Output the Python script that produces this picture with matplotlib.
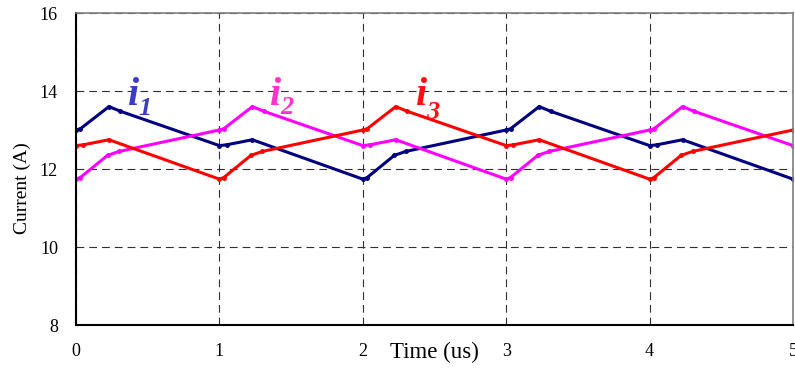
import matplotlib
matplotlib.use("Agg")
import matplotlib.pyplot as plt

# Phase currents of a three-phase interleaved converter (time in us, current in A)
t1 = [0.0, 0.03, 0.23, 0.31, 1.0, 1.05, 1.23, 2.0, 2.03, 2.22, 2.30, 3.0,
      3.03, 3.23, 3.31, 4.0, 4.05, 4.23, 5.0]
i1 = [13.0, 13.03, 13.6, 13.48, 12.6, 12.62, 12.75, 11.74, 11.78, 12.35, 12.45, 13.0,
      13.03, 13.6, 13.48, 12.6, 12.62, 12.75, 11.74]

t2 = [0.0, 0.03, 0.22, 0.30, 1.0, 1.03, 1.23, 1.31, 2.0, 2.05, 2.23, 3.0,
      3.03, 3.22, 3.30, 4.0, 4.03, 4.23, 4.31, 5.0]
i2 = [11.74, 11.78, 12.35, 12.45, 13.0, 13.03, 13.6, 13.48, 12.6, 12.62, 12.75, 11.74,
      11.78, 12.35, 12.45, 13.0, 13.03, 13.6, 13.48, 12.6]

t3 = [0.0, 0.05, 0.23, 1.0, 1.03, 1.22, 1.30, 2.0, 2.03, 2.23, 2.31, 3.0,
      3.05, 3.23, 4.0, 4.03, 4.22, 4.30, 5.0]
i3 = [12.6, 12.62, 12.75, 11.74, 11.78, 12.35, 12.45, 13.0, 13.03, 13.6, 13.48, 12.6,
      12.62, 12.75, 11.74, 11.78, 12.35, 12.45, 13.0]

x_ticks = [0, 1, 2, 3, 4, 5]
y_ticks = [8, 10, 12, 14, 16]

# (time, current, line colour, label colour, subscript, label x, subscript baseline)
series = [
    (t1, i1, "#000080", "#3b3bc8", "1", 0.36, 13.38),
    (t2, i2, "#ff00ff", "#ff33cc", "2", 1.35, 13.40),
    (t3, i3, "#ff0000", "#ff1010", "3", 2.37, 13.28),
]

plt.rcParams["font.family"] = ["Liberation Serif", "DejaVu Serif"]

fig = plt.figure(figsize=(7.95, 3.68), dpi=100)
ax = fig.add_axes([76 / 795, 1 - 325 / 368, 717 / 795, 312 / 368])

for t, v, col, lab_col, sub, lx, sub_y in series:
    ax.plot(t, v, color=col, lw=2.2, marker="o", ms=2.5, solid_joinstyle="miter")
    ax.text(lx, 13.64, "i", color=lab_col, fontsize=29, fontweight="bold",
            fontstyle="italic", ha="left", va="baseline")
    ax.text(lx + 0.075, sub_y, sub, color=lab_col, fontsize=19, fontweight="bold",
            fontstyle="italic", ha="left", va="baseline")

ax.set_xlim(0, 5)
ax.set_ylim(8, 16)
ax.set_xticks(x_ticks)
ax.set_yticks(y_ticks)
ax.set_xticklabels([str(v) for v in x_ticks], fontsize=13)
ax.set_yticklabels([str(v) for v in y_ticks], fontsize=13)
ax.tick_params(length=0, pad=13)

ax.grid(True, color="#303030", linestyle=(0, (7, 4.5)), lw=0.8)
for side in ("left", "bottom"):
    ax.spines[side].set_color("black")
    ax.spines[side].set_linewidth(1.5)
for side in ("top", "right"):
    ax.spines[side].set_color("#808080")
    ax.spines[side].set_linewidth(1.2)

ax.set_xlabel("Time (us)", fontsize=16.5)
ax.xaxis.set_label_coords(0.5, -0.087)
ax.xaxis.label.set_va("center")
ax.set_ylabel("Current (A)", fontsize=14)
ax.yaxis.set_label_coords(-0.075, 0.44)
ax.yaxis.label.set_va("center")

fig.savefig("out.png", dpi=100)
